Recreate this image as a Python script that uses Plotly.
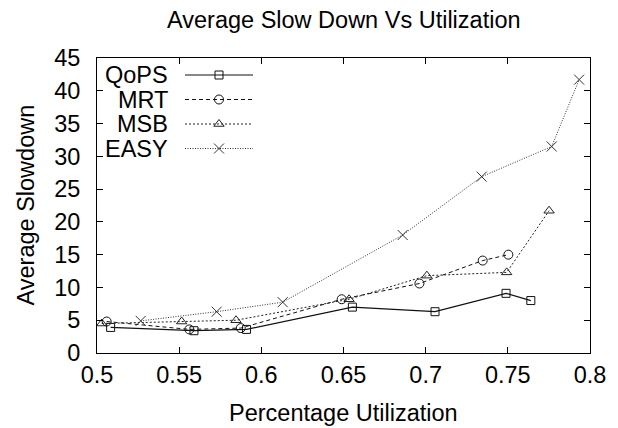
import plotly.graph_objects as go

# ---------------- data ----------------
qops_x = [0.5083, 0.559, 0.591, 0.6554, 0.7057, 0.7489, 0.764]
qops_y = [3.9, 3.4, 3.6, 7.0, 6.3, 9.1, 8.0]

mrt_x = [0.5059, 0.5562, 0.5875, 0.6489, 0.6962, 0.7347, 0.7503]
mrt_y = [4.8, 3.6, 3.8, 8.2, 10.6, 14.1, 15.0]

msb_x = [0.5029, 0.5515, 0.5846, 0.6534, 0.7007, 0.7493, 0.7751]
msb_y = [4.5, 4.8, 5.0, 8.2, 11.8, 12.3, 21.7]

easy_x = [0.5266, 0.5728, 0.613, 0.686, 0.7341, 0.7767, 0.7934]
easy_y = [4.9, 6.3, 7.75, 18.0, 26.9, 31.5, 41.7]

series_names = ["QoPS", "MRT", "MSB", "EASY"]
x_ticks = [0.5, 0.55, 0.6, 0.65, 0.7, 0.75, 0.8]
x_tick_text = ["0.5", "0.55", "0.6", "0.65", "0.7", "0.75", "0.8"]
y_ticks = [0, 5, 10, 15, 20, 25, 30, 35, 40, 45]

title_text = "Average Slow Down Vs Utilization"
x_title = "Percentage Utilization"
y_title = "Average Slowdown"

# ---------------- styling ----------------
FONT = "Liberation Sans, Arial, sans-serif"
FS = 23.5
W, H = 618, 428
L, R, T, B = 97, 28, 58, 75   # plot area margins

styles = [
    dict(symbol="square-open", size=8, dash="solid", color="#111111", width=1.2),
    dict(symbol="circle-open", size=9, dash="4px,3px", color="#111111", width=1),
    dict(symbol="triangle-up-open", size=9, dash="2px,2px", color="#222222", width=1),
    dict(symbol="x-thin-open", size=10, dash="1px,1.5px", color="#333333", width=1),
]
data = [(qops_x, qops_y), (mrt_x, mrt_y), (msb_x, msb_y), (easy_x, easy_y)]

fig = go.Figure()
for name, (xs, ys), st in zip(series_names, data, styles):
    fig.add_trace(go.Scatter(
        x=xs, y=ys, name=name, mode="lines+markers",
        line=dict(color=st["color"], width=st["width"], dash=st["dash"]),
        marker=dict(symbol=st["symbol"], size=st["size"], color=st["color"],
                    line=dict(color="#000000", width=1)),
        showlegend=False, cliponaxis=False,
    ))

# ---------------- manual legend (text left, key right) ----------------
plot_w = W - L - R
plot_h = H - T - B
leg_text_right = 170
leg_line = (185, 253)
leg_rows = [75, 99.5, 124, 148.5]
for name, st, row in zip(series_names, styles, leg_rows):
    fig.add_trace(go.Scatter(
        x=[leg_line[0], leg_line[1]], y=[row, row], mode="lines",
        line=dict(color=st["color"], width=st["width"], dash=st["dash"]),
        xaxis="x2", yaxis="y2", showlegend=False, hoverinfo="skip",
    ))
    fig.add_trace(go.Scatter(
        x=[(leg_line[0] + leg_line[1]) / 2], y=[row], mode="markers",
        marker=dict(symbol=st["symbol"], size=st["size"], color=st["color"],
                    line=dict(color="#000000", width=1)),
        xaxis="x2", yaxis="y2", showlegend=False, hoverinfo="skip",
    ))
    fig.add_annotation(
        text=name, xref="paper", yref="paper",
        x=(leg_text_right - L) / plot_w, y=(H - B - row) / plot_h,
        xanchor="right", yanchor="middle", showarrow=False,
        font=dict(family=FONT, size=FS, color="#000000"),
    )

# ---------------- titles ----------------
fig.add_annotation(text=title_text, xref="paper", yref="paper",
                   x=0.5, y=(H - B - 20) / plot_h, xanchor="center", yanchor="middle",
                   showarrow=False, font=dict(family=FONT, size=FS, color="#000000"))
fig.add_annotation(text=x_title, xref="paper", yref="paper",
                   x=0.5, y=(H - B - 413) / plot_h, xanchor="center", yanchor="middle",
                   showarrow=False, font=dict(family=FONT, size=FS, color="#000000"))
fig.add_annotation(text=y_title, xref="paper", yref="paper",
                   x=(25 - L) / plot_w, y=0.5, xanchor="center", yanchor="middle",
                   textangle=-90,
                   showarrow=False, font=dict(family=FONT, size=FS, color="#000000"))

axis_common = dict(
    showline=True, linecolor="#000000", linewidth=1, mirror="allticks",
    ticks="inside", ticklen=6, tickwidth=1, tickcolor="#000000",
    showgrid=False, zeroline=False,
    tickfont=dict(family=FONT, size=FS, color="#000000"),
)

fig.update_layout(
    width=W, height=H,
    margin=dict(l=L, r=R, t=T, b=B, pad=0),
    paper_bgcolor="#ffffff", plot_bgcolor="#ffffff",
    xaxis=dict(range=[0.5, 0.8], tickmode="array", tickvals=x_ticks,
               ticktext=x_tick_text, ticklabelstandoff=1, **axis_common),
    yaxis=dict(range=[0, 45], tickmode="array", tickvals=y_ticks,
               ticklabelstandoff=11, **axis_common),
    xaxis2=dict(overlaying="x", range=[L, W - R], visible=False, fixedrange=True),
    yaxis2=dict(overlaying="y", range=[H - B, T], visible=False, fixedrange=True),
    showlegend=False,
)

fig.write_html("out.html")
